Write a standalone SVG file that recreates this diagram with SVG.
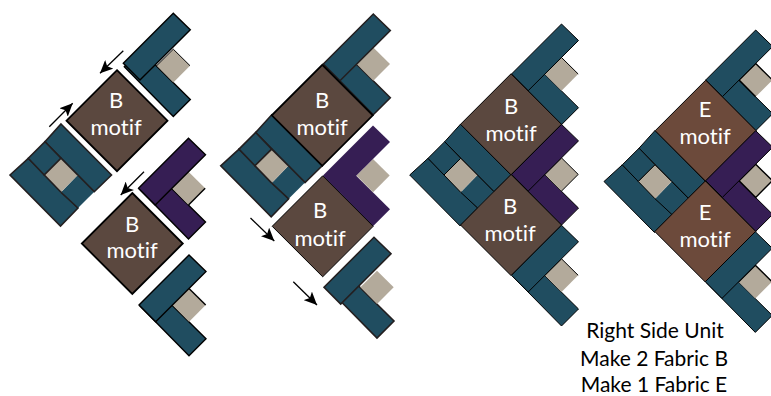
<svg xmlns="http://www.w3.org/2000/svg" width="771" height="396" viewBox="0 0 771 396">
<style>
.teal{fill:#204d60}.purple{fill:#361e54}
.s1{stroke:#000;stroke-width:1.4;stroke-linejoin:miter}
.s2{stroke:#231f20;stroke-width:1.6;stroke-linejoin:miter}
.s3{stroke:#000;stroke-width:1;stroke-linejoin:miter}
.none{stroke:none}
.tan{fill:#b3aa9b;stroke:none}
.b{fill:#5b483f}.e{fill:#6c4a3b}
.m{stroke:#000;stroke-width:1.8}
.m3{stroke:#000;stroke-width:1}
text{font-family:"Lato","Open Sans",sans-serif;font-variant-ligatures:none}
.lbl{font-size:22px;fill:#fff;text-anchor:middle}
.cap{font-size:21px;fill:#000;text-anchor:middle}
.arrow{stroke:#000;stroke-width:1.3;fill:none;marker-end:url(#head)}
</style>
<defs>
<marker id="head" markerUnits="userSpaceOnUse" markerWidth="14" markerHeight="12" refX="13" refY="6" orient="auto"><path d="M0 0L13 6L0 12L3 6Z" fill="#000"/></marker>
<polygon id="st1" points="0,0 50,-50 67,-33.5 16.7,16.7"/>
<polygon id="st2" points="17,-15.7 67,33.7 50,50.7 1,1"/>
<polygon id="sq" points="33.4,0 50,-16.5 66.7,0 50,16.7"/>
<polygon id="dia" points="0,-50.5 50.5,0 0,50.5 -50.5,0"/>
<g id="block">
<polygon points="51,-51 101.5,0 84.3,16.7 35,-33.3"/>
<polygon points="0,0 18.3,-16.7 68,33 50.5,51"/>
<polygon points="35,-33.3 51,-16.7 34.3,0 18.3,-16.7"/>
<polygon points="67.7,0 84.3,16.7 68,33 51,17.3" style="stroke:none"/>
<path d="M67.7,0L84.3,16.7M68,33L51,17.3" fill="none"/>
<polygon class="tan" points="34.3,0 51,-16.7 67.7,0 51,17.3"/>
<path d="M67.7,0L51,-16.7L34.3,0L51,17.3" fill="none"/>
</g>
</defs>

<g id="connectors">
<line class="arrow" x1="123.3" y1="50.7" x2="100" y2="73.3"/>
<line class="arrow" x1="49.3" y1="126.7" x2="72.7" y2="103.3"/>
<line class="arrow" x1="144" y1="171.7" x2="120.7" y2="195"/>
<line class="arrow" x1="250.5" y1="218" x2="274.3" y2="241"/>
<line class="arrow" x1="293.3" y1="281.7" x2="317" y2="305"/>
</g>

<g id="d1-unit-top" class="teal s1" transform="translate(123.3,63.3)">
<g transform="translate(0,2.4)"><use href="#st2"/><use href="#sq" class="tan"/><path d="M33.4,0L50,-16.5L66.7,0" fill="none" class="s3"/></g><use href="#st1"/></g>
<g id="d1-block" class="teal s2" transform="translate(10,175)"><use href="#block"/></g>
<g id="d1-motif1"><use href="#dia" x="117" y="120.7" class="b m"/><text class="lbl" x="116" y="108">B</text><text class="lbl" x="116" y="135">motif</text></g>
<g id="d1-unit-purple" class="purple s1" transform="translate(138.5,188.3)"><use href="#st2"/><use href="#sq" class="tan"/><path d="M66.7,0L50,16.7" fill="none" class="s1"/><use href="#st1"/></g>
<g id="d1-motif2"><use href="#dia" x="132.3" y="243.5" class="b m"/><text class="lbl" x="132" y="232">B</text><text class="lbl" x="132" y="258">motif</text></g>
<g id="d1-unit-bottom" class="teal s1" transform="translate(139,305)"><use href="#st2"/><use href="#sq" class="tan"/><path d="M50,-16.5L66.7,0" fill="none" class="s1"/><use href="#st1"/></g>

<g id="d2-unit-top" class="teal s2" transform="translate(323.3,64)"><use href="#st2"/><use href="#sq" class="tan"/><use href="#st1"/></g>
<g id="d2-block" class="teal s2" transform="translate(220.7,165.8)"><use href="#block"/></g>
<g id="d2-motif1"><use href="#dia" x="322.3" y="115.3" class="b m"/><text class="lbl" x="322" y="108">B</text><text class="lbl" x="322" y="135">motif</text></g>
<g id="d2-unit-purple" class="purple none" transform="translate(323,175.5)"><use href="#st2"/><use href="#sq" class="tan"/><use href="#st1"/></g>
<g id="d2-motif2"><use href="#dia" x="322.7" y="226.3" class="b m3"/><text class="lbl" x="320" y="218">B</text><text class="lbl" x="320" y="246">motif</text></g>
<g id="d2-unit-bottom" class="teal s2" transform="translate(324,287.3)"><g transform="translate(3,0)"><use href="#st2"/><use href="#sq" class="tan"/></g><use href="#st1"/></g>

<g id="d3-unit-top" class="teal s3" transform="translate(511.5,74)"><use href="#st2"/><use href="#sq" class="tan"/><path d="M33.4,0L50,-16.5L66.7,0" fill="none" class="s3"/><use href="#st1"/></g>
<g id="d3-block" class="teal s3" transform="translate(409.7,175)"><use href="#block"/></g>
<g id="d3-motif1"><use href="#dia" x="511" y="124.3" class="b m3"/><text class="lbl" x="511" y="114">B</text><text class="lbl" x="511" y="141">motif</text></g>
<g id="d3-unit-purple" class="purple s3" transform="translate(511.5,174.4)"><use href="#st2"/><use href="#sq" class="tan"/><path d="M33.4,0L50,-16.5L66.7,0M66.7,0L50,16.7" fill="none" class="s3"/><use href="#st1"/></g>
<g id="d3-motif2"><use href="#dia" x="511" y="225" class="b m3"/><text class="lbl" x="510" y="214">B</text><text class="lbl" x="510" y="241">motif</text></g>
<g id="d3-unit-bottom" class="teal s3" transform="translate(511.5,275.3)"><use href="#st2"/><use href="#sq" class="tan"/><path d="M33.4,0L50,-16.5L66.7,0" fill="none" class="s3"/><use href="#st1"/></g>

<g id="d4-unit-top" class="teal s3" transform="translate(705.7,80)"><use href="#st2"/><use href="#sq" class="tan"/><path d="M33.4,0L50,-16.5L66.7,0M33.4,0L50,16.7" fill="none" class="s1"/><use href="#st1"/></g>
<g id="d4-block" class="teal s3" transform="translate(604,181.5)"><use href="#block"/></g>
<g id="d4-motif1"><use href="#dia" x="705.7" y="130.7" class="e m3"/><text class="lbl" x="705" y="117">E</text><text class="lbl" x="705" y="144">motif</text></g>
<g id="d4-unit-purple" class="purple s3" transform="translate(705.7,180.7)"><use href="#st2"/><use href="#sq" class="tan"/><path d="M33.4,0L50,-16.5L66.7,0M33.4,0L50,16.7L66.7,0" fill="none" class="s1"/><use href="#st1"/></g>
<g id="d4-motif2"><use href="#dia" x="705.3" y="231.5" class="e m3"/><text class="lbl" x="705" y="220">E</text><text class="lbl" x="705" y="247">motif</text></g>
<g id="d4-unit-bottom" class="teal s3" transform="translate(705.3,281.7)"><use href="#st2"/><use href="#sq" class="tan"/><path d="M33.4,0L50,-16.5L66.7,0" fill="none" class="s1"/><use href="#st1"/></g>

<g id="caption">
<text class="cap" x="655" y="338">Right Side Unit</text>
<text class="cap" x="654" y="366">Make 2 Fabric B</text>
<text class="cap" x="654" y="392">Make 1 Fabric E</text>
</g>
</svg>
